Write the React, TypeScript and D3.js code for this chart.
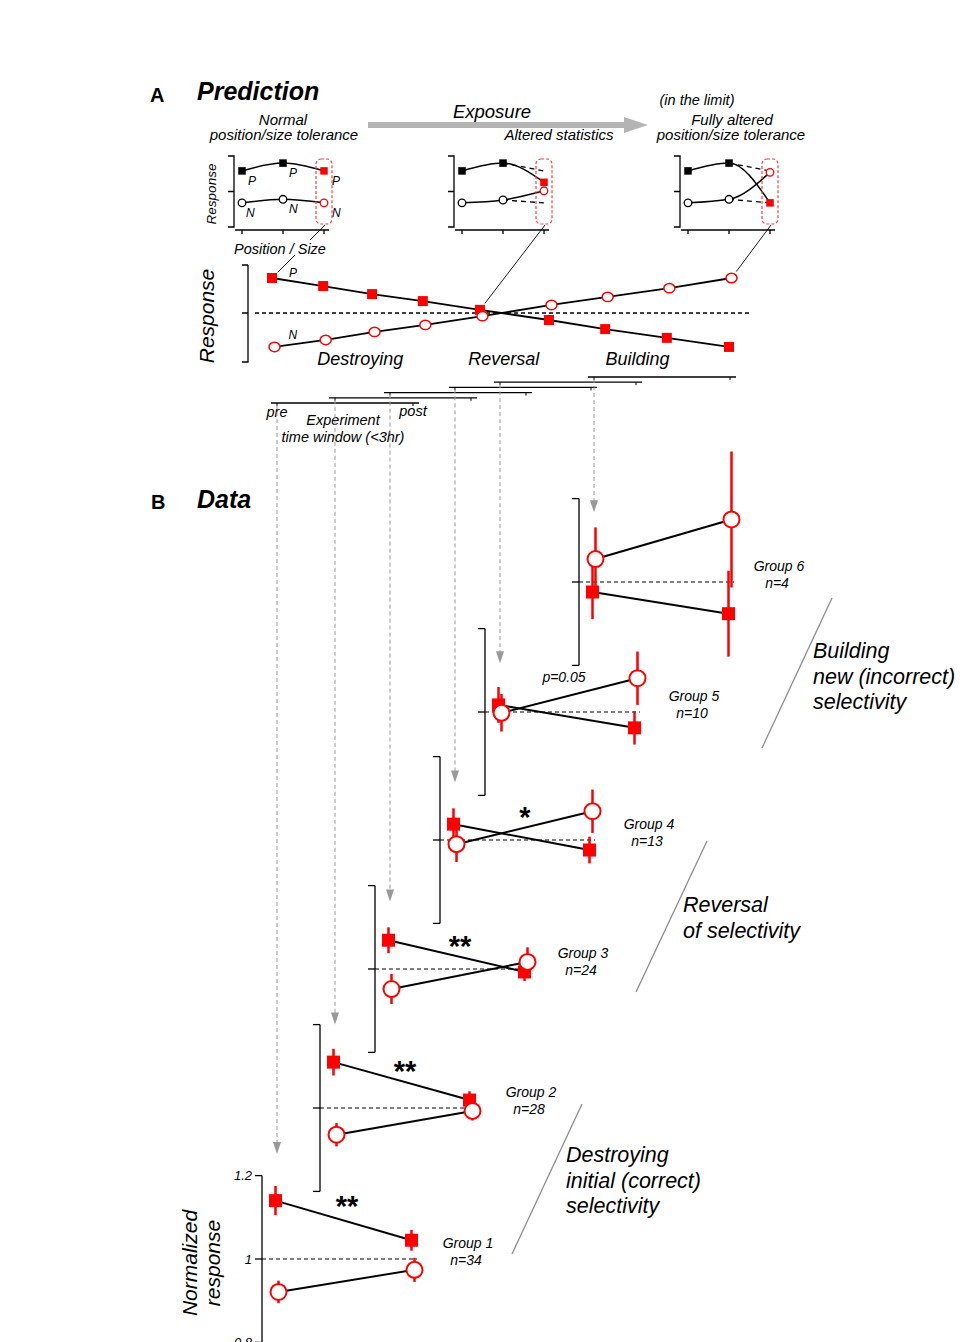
import React from 'react';
import * as d3 from 'd3';

const FONT = "'Liberation Sans', Arial, Helvetica, sans-serif";
const RED = '#ff0000';
const W = 980;
const H = 1342;

// ---------------- Panel A : prediction ----------------
const exposureStage = [0, 0.112, 0.219, 0.33, 0.455, 0.606, 0.729, 0.864, 1];
const predictedP = [1, 0.77, 0.54, 0.34, 0.09, -0.2, -0.46, -0.71, -0.97];
const predictedN = [-0.97, -0.77, -0.54, -0.34, -0.09, 0.23, 0.46, 0.71, 1];
const stageNames = ['Destroying', 'Reversal', 'Building'];
const stageNameAt = [0.193, 0.507, 0.8];

const insetPos = [0, 1, 2];
const insetRespP = [
  [0.79, 0.9, 0.79],
  [0.79, 0.9, 0.63],
  [0.79, 0.9, 0.34],
];
const insetRespN = [
  [0.34, 0.39, 0.34],
  [0.34, 0.38, 0.51],
  [0.34, 0.39, 0.77],
];
const insetLinkStage = [0, 4, 8];
const insetLinkSeries = ['P', 'P', 'N'];

// ---------------- Panel B : data ----------------
const groupNames = ['Group 1', 'Group 2', 'Group 3', 'Group 4', 'Group 5', 'Group 6'];
const groupCounts = ['n=34', 'n=28', 'n=24', 'n=13', 'n=10', 'n=4'];
const prePref = [1.14, 1.11, 1.069, 1.038, 1.017, 0.976];
const prePrefErr = [0.035, 0.032, 0.031, 0.038, 0.043, 0.065];
const postPref = [1.045, 1.019, 0.993, 0.976, 0.962, 0.924];
const postPrefErr = [0.025, 0.021, 0.022, 0.032, 0.04, 0.103];
const preNon = [0.921, 0.936, 0.952, 0.99, 0.998, 1.055];
const preNonErr = [0.027, 0.028, 0.036, 0.043, 0.045, 0.076];
const postNon = [0.974, 0.993, 1.017, 1.069, 1.081, 1.15];
const postNonErr = [0.029, 0.023, 0.035, 0.052, 0.064, 0.163];
const sigText = ['**', '**', '**', '*', 'p=0.05', ''];
const sigAt = [1.107, 1.069, 1.036, 1.036, 1.071, 1];
const arrowTipAt = [1.252, 1.2, 1.162, 1.138, 1.117, 1.167];
const yTicks = [0.8, 1, 1.2];
const regimeText = [
  ['Destroying', 'initial (correct)', 'selectivity'],
  ['Reversal', 'of selectivity'],
  ['Building', 'new (incorrect)', 'selectivity'],
];

// ---------------- layout ----------------
const groupAxisX = [262, 320, 375, 440, 485, 579];
const groupBaseY = [1259, 1108, 969, 840, 712, 582];
const groupLabelDx = [206, 211, 208, 209, 209, 200];
const PX_PER_UNIT = 417;
const insetOrigin = [242, 462, 688];
const regimeLayout = [
  { x: 566, y: 1162, line: [582, 1104, 512, 1254] },
  { x: 683, y: 912, line: [707, 841, 636, 992] },
  { x: 813, y: 658, line: [832, 598, 762, 748] },
];

function Sq({ x, y, s, fill }: { x: number; y: number; s: number; fill: string }) {
  return <rect x={x - s / 2} y={y - s / 2} width={s} height={s} fill={fill} />;
}

export default function App() {
  // ----- Panel A main plot -----
  const ax = d3.scaleLinear().domain([0, 1]).range([272, 729]);
  const ay = d3.scaleLinear().domain([-1, 1]).range([348, 278]);
  const cOff = 2.5;
  const line = d3.line<[number, number]>();
  const pPts: [number, number][] = exposureStage.map((s, i) => [ax(s), ay(predictedP[i])]);
  const nPts: [number, number][] = exposureStage.map((s, i) => [ax(s) + cOff, ay(predictedN[i])]);

  const italic = { fontFamily: FONT, fontStyle: 'italic' as const };

  // ----- Insets -----
  const iy = d3.scaleLinear().domain([0, 1]).range([227, 156]);
  const curve = d3.line<[number, number]>().curve(d3.curveMonotoneX);

  const insets = insetOrigin.map((ox, i) => {
    const ix = d3.scalePoint<number>().domain(insetPos).range([ox, ox + 82]);
    const P: [number, number][] = insetPos.map((k) => [ix(k)!, iy(insetRespP[i][k])]);
    const N: [number, number][] = insetPos.map((k) => [ix(k)!, iy(insetRespN[i][k])]);
    const x2 = ix(2)!;
    const st = insetLinkStage[i];
    const target = insetLinkSeries[i] === 'P' ? pPts[st] : nPts[st];
    const src: [number, number] = [x2 + 1, 225];
    const dx = src[0] - target[0];
    const dy = src[1] - target[1];
    const len = Math.sqrt(dx * dx + dy * dy);
    const end: [number, number] = [target[0] + (dx / len) * 8, target[1] + (dy / len) * 8];
    return (
      <g key={'inset' + i}>
        <line x1={src[0]} y1={src[1]} x2={end[0]} y2={end[1]} stroke="#000" strokeWidth={0.9} />
        <path
          d={`M${ox - 14},${iy(1)} H${ox - 8} V${iy(0)} H${ox - 14} M${ox - 14},${iy(0.5)} H${ox - 8}`}
          fill="none"
          stroke="#000"
          strokeWidth={1.3}
        />
        <line x1={ox - 7} x2={ox + 87} y1={230} y2={230} stroke="#000" strokeWidth={1.3} />
        {insetPos.map((k) => (
          <line key={k} x1={ix(k)} x2={ix(k)} y1={230} y2={234} stroke="#000" strokeWidth={1.3} />
        ))}
        {i > 0 && (
          <g stroke="#000" strokeWidth={1.3} strokeDasharray="5,4">
            <line x1={P[1][0]} y1={P[1][1]} x2={x2} y2={iy(insetRespP[0][2])} />
            <line x1={N[1][0]} y1={N[1][1]} x2={x2} y2={iy(insetRespN[0][2])} />
          </g>
        )}
        <path d={curve(P)!} fill="none" stroke="#000" strokeWidth={1.5} />
        <path d={curve(N)!} fill="none" stroke="#000" strokeWidth={1.5} />
        {P.map((p, k) => (
          <Sq key={'p' + k} x={p[0]} y={p[1]} s={7.5} fill={k === 2 ? RED : '#000'} />
        ))}
        {N.map((p, k) => (
          <circle key={'n' + k} cx={p[0]} cy={p[1]} r={3.8} fill="#fff" stroke={k === 2 ? RED : '#000'} strokeWidth={1.3} />
        ))}
        <rect x={x2 - 8} y={159} width={16} height={65} rx={5} fill="none" stroke="#ff4040" strokeWidth={1.2} strokeDasharray="3,2" />
        {i === 0 &&
          P.map((p, k) => (
            <text key={'pl' + k} x={p[0] + 6 + (k === 2 ? 2 : 0)} y={p[1] + 14} fontSize={12} {...italic}>
              P
            </text>
          ))}
        {i === 0 &&
          N.map((p, k) => (
            <text key={'nl' + k} x={p[0] + 4 + (k === 1 ? 2 : 0) + (k === 2 ? 4 : 0)} y={p[1] + 14} fontSize={12} {...italic}>
              N
            </text>
          ))}
      </g>
    );
  });

  // ----- Panel B groups -----
  const groups = groupNames.map((name, g) => {
    const axX = groupAxisX[g];
    const base = groupBaseY[g];
    const y = d3
      .scaleLinear()
      .domain([0.8, 1.2])
      .range([base + 0.2 * PX_PER_UNIT, base - 0.2 * PX_PER_UNIT]);
    const x = d3.scalePoint<string>().domain(['pre', 'post']).range([axX + 15, axX + 151]);
    const xPre = x('pre')!;
    const xPost = x('post')!;
    const sO = -1.5;
    const cO = 1.5;
    const Pp: [number, number][] = [
      [xPre + sO, y(prePref[g])],
      [xPost + sO, y(postPref[g])],
    ];
    const Np: [number, number][] = [
      [xPre + cO, y(preNon[g])],
      [xPost + cO, y(postNon[g])],
    ];
    const Pe = [prePrefErr[g], postPrefErr[g]];
    const Pv = [prePref[g], postPref[g]];
    const Ne = [preNonErr[g], postNonErr[g]];
    const Nv = [preNon[g], postNon[g]];

    const by = 403 - g * 5.2;
    const tipY = y(arrowTipAt[g]);

    return (
      <g key={name}>
        <line x1={xPre - 6} x2={xPost + 6} y1={by} y2={by} stroke="#000" strokeWidth={1.3} />
        <line x1={xPre} x2={xPre} y1={by} y2={by + 3} stroke="#000" strokeWidth={1} />
        <line x1={xPost} x2={xPost} y1={by} y2={by + 3} stroke="#000" strokeWidth={1} />
        <line x1={xPre} x2={xPre} y1={by + 2} y2={tipY - 10} stroke="#999" strokeWidth={1} strokeDasharray="4,3" />
        <path d={`M${xPre - 4},${tipY - 12} L${xPre + 4},${tipY - 12} L${xPre},${tipY} Z`} fill="#999" />

        <line x1={axX} x2={axX} y1={y(1.2)} y2={y(0.8)} stroke="#000" strokeWidth={1.3} />
        {yTicks.map((t) => (
          <line key={t} x1={axX - 7} x2={axX} y1={y(t)} y2={y(t)} stroke="#000" strokeWidth={1.3} />
        ))}
        {g === 0 &&
          yTicks.map((t) => (
            <text key={'l' + t} x={axX - 10} y={y(t)} dy="0.36em" textAnchor="end" fontSize={13} {...italic}>
              {d3.format('')(t)}
            </text>
          ))}
        <line x1={axX} x2={xPost + 4} y1={y(1)} y2={y(1)} stroke="#000" strokeWidth={1.2} strokeDasharray="4,3" />
        <path d={line(Pp)!} stroke="#000" strokeWidth={2} fill="none" />
        <path d={line(Np)!} stroke="#000" strokeWidth={2} fill="none" />
        {Pp.map((p, k) => (
          <line key={'pe' + k} x1={p[0]} x2={p[0]} y1={y(Pv[k] + Pe[k])} y2={y(Pv[k] - Pe[k])} stroke={RED} strokeWidth={2.5} />
        ))}
        {Np.map((p, k) => (
          <line key={'ne' + k} x1={p[0]} x2={p[0]} y1={y(Nv[k] + Ne[k])} y2={y(Nv[k] - Ne[k])} stroke={RED} strokeWidth={2.5} />
        ))}
        {Pp.map((p, k) => (
          <Sq key={'ps' + k} x={p[0]} y={p[1]} s={13} fill={RED} />
        ))}
        {Np.map((p, k) => (
          <circle key={'nc' + k} cx={p[0]} cy={p[1]} r={8} fill="#fff" stroke={RED} strokeWidth={2} />
        ))}
        {sigText[g] &&
          (sigText[g].startsWith('*') ? (
            <text x={axX + 85} y={y(sigAt[g]) + 2} textAnchor="middle" fontSize={29} fontWeight="bold" fontFamily={FONT}>
              {sigText[g]}
            </text>
          ) : (
            <text x={axX + 79} y={y(sigAt[g])} textAnchor="middle" fontSize={14} {...italic}>
              {sigText[g]}
            </text>
          ))}
        <text x={axX + groupLabelDx[g]} y={y(1) - 11} textAnchor="middle" fontSize={14} {...italic}>
          {name}
        </text>
        <text x={axX + groupLabelDx[g] - 2} y={y(1) + 6} textAnchor="middle" fontSize={14} {...italic}>
          {groupCounts[g]}
        </text>
      </g>
    );
  });

  return (
    <svg
      width={W}
      height={H}
      viewBox={`0 0 ${W} ${H}`}
      style={{ position: 'absolute', left: 0, top: 0, background: '#fff' }}
    >
      <rect width={W} height={H} fill="#fff" />

      <text x={150} y={102} fontSize={20} fontWeight="bold" fontFamily={FONT}>
        A
      </text>
      <text x={197} y={100} fontSize={25} fontWeight="bold" {...italic}>
        Prediction
      </text>
      <text x={283} y={125} textAnchor="middle" fontSize={15} {...italic}>
        Normal
      </text>
      <text x={284} y={140} textAnchor="middle" fontSize={15} {...italic}>
        position/size tolerance
      </text>
      <line x1={368} x2={628} y1={125} y2={125} stroke="#b4b4b4" strokeWidth={6} />
      <path d="M624,117 L648,125 L624,133 Z" fill="#b4b4b4" />
      <text x={492} y={118} textAnchor="middle" fontSize={18.5} {...italic}>
        Exposure
      </text>
      <text x={559} y={140} textAnchor="middle" fontSize={15} {...italic}>
        Altered statistics
      </text>
      <text x={697} y={105} textAnchor="middle" fontSize={14.5} {...italic}>
        (in the limit)
      </text>
      <text x={732} y={125} textAnchor="middle" fontSize={15} {...italic}>
        Fully altered
      </text>
      <text x={731} y={140} textAnchor="middle" fontSize={15} {...italic}>
        position/size tolerance
      </text>

      {insets}
      <text transform="translate(216,194) rotate(-90)" textAnchor="middle" fontSize={13.5} {...italic}>
        Response
      </text>
      <rect x={232} y={240} width={97} height={15} fill="#fff" />
      <text x={280} y={254} textAnchor="middle" fontSize={14.5} {...italic}>
        Position / Size
      </text>

      <path d={`M248,265 H242 M248,265 V362 H242 M242,${ay(0)} H248`} fill="none" stroke="#000" strokeWidth={1.3} />
      <line x1={255} x2={750} y1={ay(0)} y2={ay(0)} stroke="#000" strokeWidth={1.3} strokeDasharray="4,3" />
      <path d={line(pPts)!} fill="none" stroke="#000" strokeWidth={1.8} />
      <path d={line(nPts)!} fill="none" stroke="#000" strokeWidth={1.8} />
      {pPts.map((p, i) => (
        <Sq key={'mp' + i} x={p[0]} y={p[1]} s={10} fill={RED} />
      ))}
      {nPts.map((p, i) => (
        <ellipse key={'mn' + i} cx={p[0]} cy={p[1]} rx={5.5} ry={4.7} fill="#fff" stroke={RED} strokeWidth={1.5} />
      ))}
      <text x={pPts[0][0] + 17} y={pPts[0][1] - 1} fontSize={12} {...italic}>
        P
      </text>
      <text x={nPts[0][0] + 14} y={nPts[0][1] - 8} fontSize={12} {...italic}>
        N
      </text>
      {stageNames.map((s, i) => (
        <text key={s} x={ax(stageNameAt[i])} y={365} textAnchor="middle" fontSize={18} {...italic}>
          {s}
        </text>
      ))}
      <text transform="translate(214,316) rotate(-90)" textAnchor="middle" fontSize={21} {...italic}>
        Response
      </text>

      <text x={277} y={417} textAnchor="middle" fontSize={14.5} {...italic}>
        pre
      </text>
      <text x={413} y={416} textAnchor="middle" fontSize={14.5} {...italic}>
        post
      </text>
      <text x={343} y={425} textAnchor="middle" fontSize={14.5} {...italic}>
        Experiment
      </text>
      <text x={343} y={442} textAnchor="middle" fontSize={14.5} {...italic}>
        time window (&lt;3hr)
      </text>

      <text x={151} y={509} fontSize={20} fontWeight="bold" fontFamily={FONT}>
        B
      </text>
      <text x={197} y={508} fontSize={25} fontWeight="bold" {...italic}>
        Data
      </text>
      {groups}

      {regimeLayout.map((r, i) => (
        <g key={'reg' + i}>
          <line x1={r.line[0]} y1={r.line[1]} x2={r.line[2]} y2={r.line[3]} stroke="#8c8c8c" strokeWidth={1.3} />
          <text x={r.x} y={r.y} fontSize={21.5} {...italic}>
            {regimeText[i].map((t, k) => (
              <tspan key={k} x={r.x} dy={k === 0 ? 0 : 25.5}>
                {t}
              </tspan>
            ))}
          </text>
        </g>
      ))}

      <text transform="translate(197,1263) rotate(-90)" textAnchor="middle" fontSize={21} {...italic}>
        Normalized
      </text>
      <text transform="translate(220,1263) rotate(-90)" textAnchor="middle" fontSize={21} {...italic}>
        response
      </text>
    </svg>
  );
}
